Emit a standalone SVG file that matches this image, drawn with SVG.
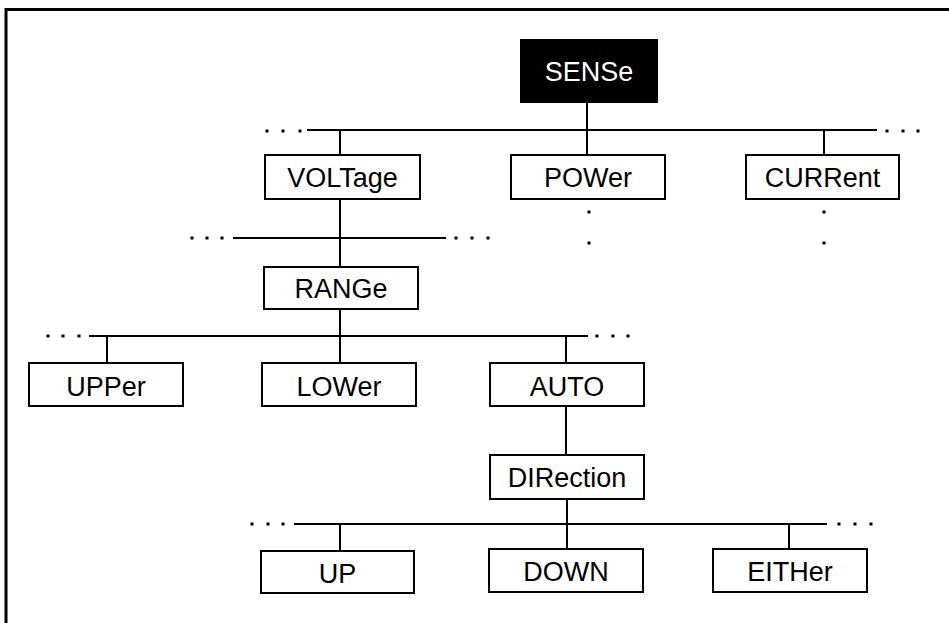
<svg xmlns="http://www.w3.org/2000/svg" width="949" height="623" viewBox="0 0 949 623">
<style>
.box{fill:#fff;stroke:#000;stroke-width:2}
.dark{fill:#000;stroke:#000;stroke-width:2}
.lbl{font-family:"Liberation Sans",Arial,sans-serif;font-size:27px;text-anchor:middle;fill:#000}
.lblw{font-family:"Liberation Sans",Arial,sans-serif;font-size:27px;text-anchor:middle;fill:#fff}
.ln{stroke:#000;stroke-width:2;fill:none}
.dot{fill:#000}
</style>
<defs>
<rect id="d" class="dot" x="-1.5" y="-1.5" width="3" height="3"/>
</defs>
<g id="frame">
<line x1="6" y1="9.5" x2="949" y2="9.5" stroke="#000" stroke-width="3"/>
<line x1="6" y1="8" x2="6" y2="623" stroke="#000" stroke-width="3"/>
</g>
<g id="connectors">
<line class="ln" x1="587" y1="102" x2="587" y2="155"/>
<line class="ln" x1="307" y1="130" x2="877" y2="130"/>
<line class="ln" x1="340" y1="130" x2="340" y2="155"/>
<line class="ln" x1="824" y1="130" x2="824" y2="155"/>
<line class="ln" x1="340" y1="199" x2="340" y2="267"/>
<line class="ln" x1="233" y1="238" x2="446" y2="238"/>
<line class="ln" x1="340" y1="309" x2="340" y2="363"/>
<line class="ln" x1="89" y1="336" x2="588" y2="336"/>
<line class="ln" x1="107" y1="336" x2="107" y2="363"/>
<line class="ln" x1="566" y1="336" x2="566" y2="363"/>
<line class="ln" x1="566" y1="406" x2="566" y2="455"/>
<line class="ln" x1="567" y1="499" x2="567" y2="549"/>
<line class="ln" x1="294" y1="524" x2="827" y2="524"/>
<line class="ln" x1="340" y1="524" x2="340" y2="551"/>
<line class="ln" x1="789" y1="524" x2="789" y2="549"/>
</g>
<g id="dots">
<use href="#d" x="267" y="131"/><use href="#d" x="283" y="131"/><use href="#d" x="300" y="131"/>
<use href="#d" x="887" y="131"/><use href="#d" x="903" y="131"/><use href="#d" x="918" y="131"/>
<use href="#d" x="192" y="238"/><use href="#d" x="207" y="238"/><use href="#d" x="222" y="238"/>
<use href="#d" x="456" y="238"/><use href="#d" x="472" y="238"/><use href="#d" x="488" y="238"/>
<use href="#d" x="48" y="336"/><use href="#d" x="63" y="336"/><use href="#d" x="79" y="336"/>
<use href="#d" x="597" y="336"/><use href="#d" x="613" y="336"/><use href="#d" x="628" y="336"/>
<use href="#d" x="252" y="524"/><use href="#d" x="268" y="524"/><use href="#d" x="283" y="524"/>
<use href="#d" x="839" y="524"/><use href="#d" x="855" y="524"/><use href="#d" x="871" y="524"/>
<use href="#d" x="589" y="212"/><use href="#d" x="589" y="243"/>
<use href="#d" x="824" y="212"/><use href="#d" x="824" y="243"/>
</g>
<g id="SENSe"><rect class="dark" x="521" y="40" width="136" height="62"/><text class="lblw" x="589" y="81">SENSe</text></g>
<g id="VOLTage"><rect class="box" x="265" y="155" width="155" height="44"/><text class="lbl" x="342.5" y="187">VOLTage</text></g>
<g id="POWer"><rect class="box" x="511" y="155" width="154" height="44"/><text class="lbl" x="588" y="187">POWer</text></g>
<g id="CURRent"><rect class="box" x="746" y="155" width="153" height="44"/><text class="lbl" x="822.5" y="187">CURRent</text></g>
<g id="RANGe"><rect class="box" x="264" y="267" width="154" height="42"/><text class="lbl" x="341" y="298">RANGe</text></g>
<g id="UPPer"><rect class="box" x="29" y="363" width="154" height="43"/><text class="lbl" x="106" y="396">UPPer</text></g>
<g id="LOWer"><rect class="box" x="262" y="363" width="154" height="43"/><text class="lbl" x="339" y="396">LOWer</text></g>
<g id="AUTO"><rect class="box" x="490" y="363" width="154" height="43"/><text class="lbl" x="567" y="396">AUTO</text></g>
<g id="DIRection"><rect class="box" x="490" y="455" width="154" height="44"/><text class="lbl" x="567" y="487">DIRection</text></g>
<g id="UP"><rect class="box" x="261" y="551" width="153" height="42"/><text class="lbl" x="337.5" y="583">UP</text></g>
<g id="DOWN"><rect class="box" x="489" y="549" width="154" height="43"/><text class="lbl" x="566" y="581">DOWN</text></g>
<g id="EITHer"><rect class="box" x="713" y="549" width="154" height="43"/><text class="lbl" x="790" y="581">EITHer</text></g>
</svg>
